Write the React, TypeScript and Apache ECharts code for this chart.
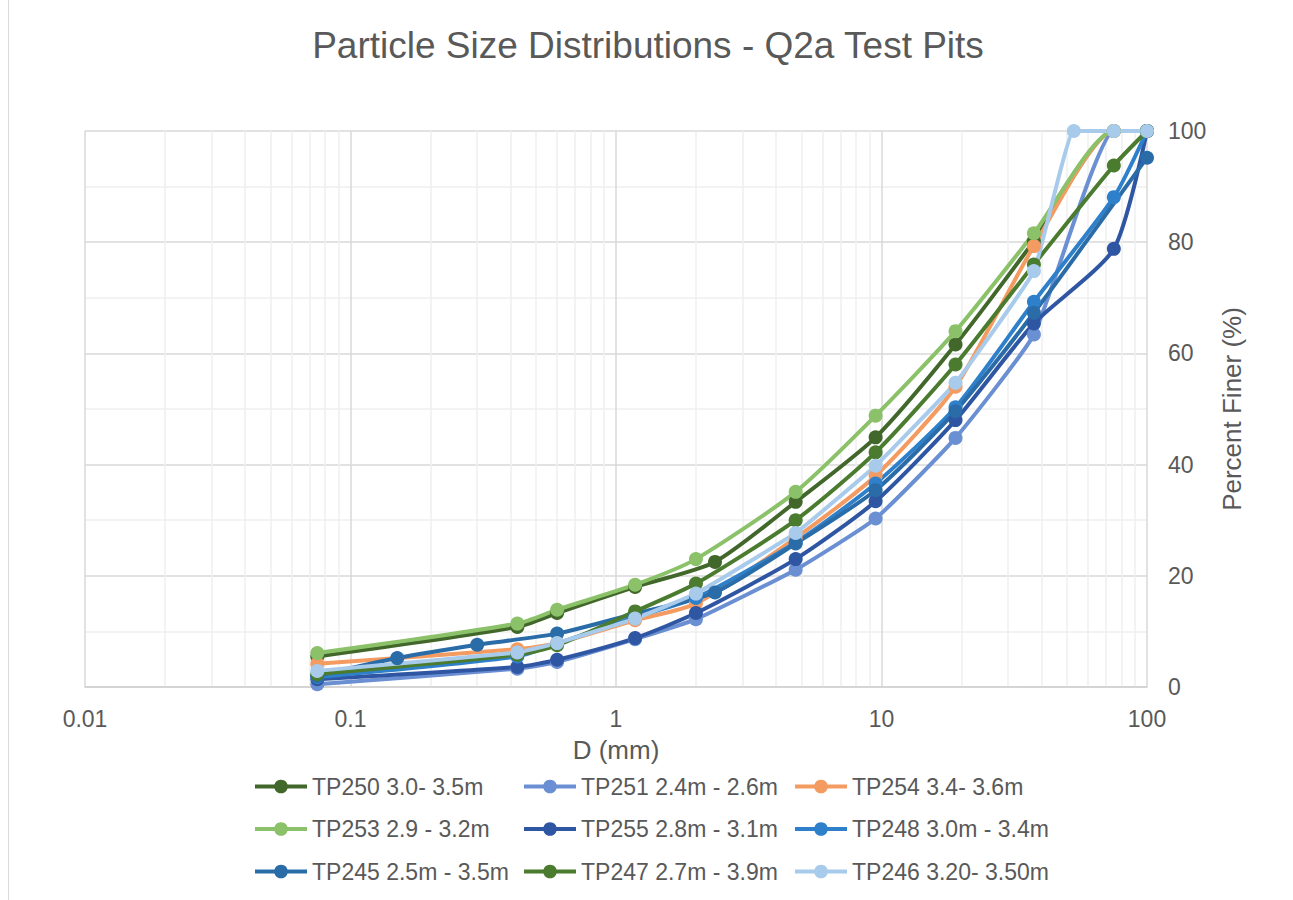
import React, { useEffect, useRef } from "react";
import * as echarts from "echarts";

const titleText = "Particle Size Distributions - Q2a Test Pits";
const xAxisName = "D (mm)";
const yAxisName = "Percent Finer (%)";
const xTickLabels: Record<string, string> = { "0.01": "0.01", "0.1": "0.1", "1": "1", "10": "10", "100": "100" };
const minorGridSizes = [
  0.02, 0.03, 0.04, 0.05, 0.06, 0.07, 0.08, 0.09,
  0.2, 0.3, 0.4, 0.5, 0.6, 0.7, 0.8, 0.9,
  2, 3, 4, 5, 6, 7, 8, 9,
  20, 30, 40, 50, 60, 70, 80, 90,
];

const seriesNames = [
  "TP250 3.0- 3.5m",
  "TP251 2.4m - 2.6m",
  "TP254 3.4- 3.6m",
  "TP253 2.9 - 3.2m",
  "TP255 2.8m - 3.1m",
  "TP248 3.0m - 3.4m",
  "TP245 2.5m - 3.5m",
  "TP247 2.7m - 3.9m",
  "TP246 3.20- 3.50m",
];
const seriesColors = [
  "#41672A", "#6A8FD2", "#F39B61", "#8BC168", "#2F56A3",
  "#2F80CA", "#2A6CA8", "#4A7B2F", "#A8CBEB",
];
const seriesSmooth = [0.22, 0.15, 0.22, 0.22, 0.22, 0.22, 0.22, 0.22, 0.1];

// sieve sizes (mm)
const sizesTP250 = [0.075, 0.425, 0.6, 1.18, 2.36, 4.75, 9.5, 19, 37.5, 75, 100];
const sizesStd = [0.075, 0.425, 0.6, 1.18, 2.0, 4.75, 9.5, 19, 37.5, 75, 100];
const sizesTP245 = [0.075, 0.15, 0.3, 0.6, 1.18, 2.36, 4.75, 9.5, 19, 37.5, 100];
const sizesTP246 = [0.075, 0.425, 0.6, 1.18, 2.0, 4.75, 9.5, 19, 37.5, 53, 75, 100];

// percent finer
const finerTP250 = [5.5, 10.8, 13.3, 18.0, 22.5, 33.3, 44.9, 61.6, 80.2, 100, 100];
const finerTP251 = [0.5, 3.3, 4.5, 8.6, 12.2, 21.1, 30.3, 44.8, 63.4, 100, 100];
const finerTP254 = [4.2, 6.8, 7.9, 12.0, 15.0, 26.8, 38.0, 54.0, 79.3, 100, 100];
const finerTP253 = [6.1, 11.4, 13.9, 18.4, 23.0, 35.1, 48.8, 64.0, 81.6, 100, 100];
const finerTP255 = [1.4, 3.6, 4.9, 8.8, 13.3, 23.0, 33.4, 48.0, 65.4, 78.8, 100];
const finerTP248 = [1.8, 5.5, 7.8, 12.6, 16.0, 26.0, 36.6, 50.3, 69.3, 88.1, 100];
const finerTP245 = [2.0, 5.2, 7.6, 9.6, 13.2, 17.0, 25.8, 35.4, 49.6, 67.3, 95.2];
const finerTP247 = [2.3, 5.8, 7.5, 13.6, 18.6, 30.0, 42.2, 58.0, 76.0, 93.8, 100];
const finerTP246 = [2.9, 6.2, 7.9, 12.3, 16.8, 27.7, 39.8, 54.7, 74.8, 100, 100, 100];

const seriesSizes = [sizesTP250, sizesStd, sizesStd, sizesStd, sizesStd, sizesStd, sizesTP245, sizesStd, sizesTP246];
const seriesFiner = [finerTP250, finerTP251, finerTP254, finerTP253, finerTP255, finerTP248, finerTP245, finerTP247, finerTP246];

const legendColumns = [
  [seriesNames[0], seriesNames[3], seriesNames[6]],
  [seriesNames[1], seriesNames[4], seriesNames[7]],
  [seriesNames[2], seriesNames[5], seriesNames[8]],
];
const legendLefts = [253, 522, 793];

const FONT = "'Liberation Sans', Arial, sans-serif";
const TEXT = "#595959";

export default function App() {
  const ref = useRef<HTMLDivElement>(null);
  useEffect(() => {
    if (!ref.current) return;
    const chart = echarts.init(ref.current, undefined, { renderer: "svg" });
    const lineSeries = seriesNames.map((name, i) => ({
      name,
      type: "line",
      data: seriesSizes[i].map((s, j) => [s, seriesFiner[i][j]]),
      smooth: seriesSmooth[i],
      symbol: "circle",
      symbolSize: 14,
      z: 3,
      lineStyle: { width: 4, color: seriesColors[i] },
      itemStyle: { color: seriesColors[i] },
      emphasis: { disabled: true },
    }));
    const option: any = {
      animation: false,
      backgroundColor: "#ffffff",
      textStyle: { fontFamily: FONT },
      title: {
        text: titleText,
        left: 648,
        textAlign: "center",
        top: 27,
        padding: 0,
        textStyle: { fontFamily: FONT, fontSize: 37, fontWeight: "normal", color: TEXT },
      },
      graphic: [
        {
          type: "rect",
          shape: { x: 8.5, y: -2, width: 1290, height: 905 },
          style: { fill: "none", stroke: "#d9d9d9", lineWidth: 1 },
          silent: true,
          z: -1,
        },
      ],
      grid: { left: 85, top: 131, width: 1062, height: 556, containLabel: false },
      xAxis: {
        type: "log",
        logBase: 10,
        min: 0.01,
        max: 100,
        name: xAxisName,
        nameLocation: "middle",
        nameGap: 50,
        nameTextStyle: { fontFamily: FONT, fontSize: 26, color: TEXT },
        axisLine: { show: true, lineStyle: { color: "#d0d0d0", width: 1.5 } },
        axisTick: { show: false },
        axisLabel: {
          margin: 20,
          fontFamily: FONT,
          fontSize: 23,
          color: TEXT,
          formatter: (v: number) => xTickLabels[String(+v.toPrecision(3))] ?? String(v),
        },
        splitLine: { show: true, lineStyle: { color: "#d9d9d9", width: 1.5 } },
      },
      yAxis: {
        type: "value",
        position: "right",
        min: 0,
        max: 100,
        interval: 20,
        name: yAxisName,
        nameLocation: "middle",
        nameRotate: 90,
        nameGap: 72,
        nameTextStyle: { fontFamily: FONT, fontSize: 26, color: TEXT },
        axisLine: { show: false },
        axisTick: { show: false },
        axisLabel: { margin: 21, fontFamily: FONT, fontSize: 23, color: TEXT },
        splitLine: { show: true, lineStyle: { color: "#d9d9d9", width: 1.5 } },
        minorTick: { show: false, splitNumber: 2 },
        minorSplitLine: { show: true, lineStyle: { color: "#efefef", width: 1.5 } },
      },
      legend: legendColumns.map((col, k) => ({
        data: col,
        orient: "vertical",
        left: legendLefts[k],
        top: 775,
        padding: 0,
        itemWidth: 52,
        itemHeight: 17,
        itemGap: 19.5,
        selectedMode: false,
        lineStyle: { width: 4 },
        textStyle: { fontFamily: FONT, fontSize: 23, color: TEXT, lineHeight: 23 },
      })),
      series: [
        {
          name: "minor-grid",
          type: "line",
          data: [],
          silent: true,
          z: 0,
          markLine: {
            silent: true,
            symbol: "none",
            z: 0,
            label: { show: false },
            lineStyle: { color: "#efefef", width: 1.5, type: "solid" },
            emphasis: { disabled: true },
            data: minorGridSizes.map((s) => ({ xAxis: s })),
          },
        },
        ...lineSeries,
      ],
    };
    chart.setOption(option);
    return () => chart.dispose();
  }, []);
  return (
    <div
      ref={ref}
      style={{ position: "absolute", left: 0, top: 0, width: 1293, height: 900 }}
    />
  );
}
